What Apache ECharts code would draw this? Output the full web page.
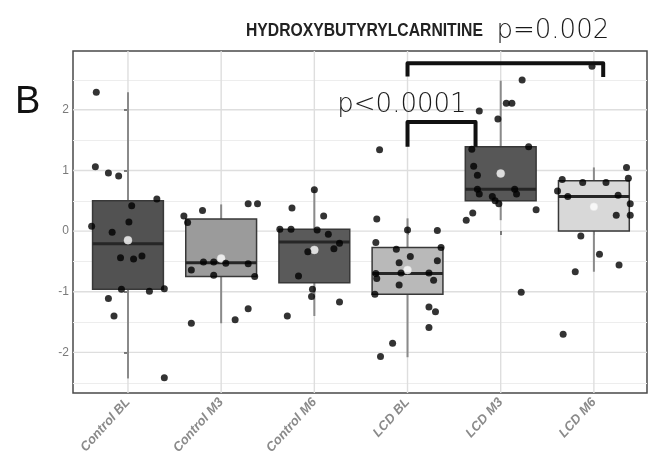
<!DOCTYPE html>
<html>
<head>
<meta charset="utf-8">
<script src="https://cdn.jsdelivr.net/npm/echarts@6/dist/echarts.min.js"></script>
<style>
  html, body { margin: 0; padding: 0; background: #ffffff; }
  #chart { width: 650px; height: 461px; }
</style>
</head>
<body>
<div id="chart"></div>
<script>
// ---- data -------------------------------------------------------------
const categories = ['Control BL', 'Control M3', 'Control M6', 'LCD BL', 'LCD M3', 'LCD M6'];
const yTickValues = [-2, -1, 0, 1, 2];
const yMinorValues = [-2.5, -1.5, -0.5, 0.5, 1.5, 2.5];

// box statistics per group
const lowerWhisker = [-2.43, -1.52, -1.40, -2.08, 0.18, -0.67];
const lowerQuartile = [-0.96, -0.75, -0.85, -1.04, 0.50, 0.00];
const medians      = [-0.21, -0.52, -0.18, -0.70, 0.69, 0.57];
const upperQuartile = [0.50, 0.20, 0.03, -0.27, 1.39, 0.83];
const upperWhisker = [2.29, 0.44, 0.68, 0.21, 2.48, 1.05];
const means        = [-0.15, -0.45, -0.31, -0.64, 0.95, 0.40];

// individual subjects: [horizontal jitter, value]
const controlBL = [[-0.34, 2.29], [-0.35, 1.06], [-0.21, 0.96], [-0.10, 0.91], [0.31, 0.53], [0.04, 0.42],
  [0.01, 0.15], [-0.39, 0.08], [-0.17, -0.02], [-0.08, -0.44], [0.06, -0.46], [0.15, -0.41], [-0.07, -0.96],
  [0.23, -0.99], [0.39, -0.95], [-0.21, -1.11], [-0.15, -1.40], [0.39, -2.42]];
const controlM3 = [[-0.40, 0.25], [-0.36, 0.14], [-0.20, 0.34], [0.29, 0.45], [0.39, 0.45], [-0.32, -0.64],
  [-0.19, -0.51], [-0.08, -0.51], [0.05, -0.53], [0.29, -0.54], [-0.08, -0.73], [0.36, -0.75], [-0.32, -1.52],
  [0.15, -1.46], [0.29, -1.28]];
const controlM6 = [[-0.37, 0.03], [-0.25, 0.03], [-0.24, 0.38], [-0.07, -0.34], [-0.17, -0.74], [-0.29, -1.40],
  [-0.03, -1.08], [-0.02, -0.96], [0.00, 0.68], [0.10, 0.25], [0.03, 0.02], [0.15, -0.05], [0.27, -0.20],
  [0.21, -0.29], [0.27, -1.17]];
const lcdBL = [[-0.30, 1.34], [-0.33, 0.20], [-0.34, -0.19], [0.00, 0.02], [0.32, 0.01], [-0.12, -0.30],
  [0.36, -0.27], [-0.09, -0.52], [0.03, -0.42], [0.32, -0.49], [-0.34, -0.70], [-0.07, -0.69], [0.23, -0.69],
  [-0.33, -0.78], [-0.09, -0.89], [0.28, -0.81], [-0.35, -1.04], [0.23, -1.25], [0.30, -1.33], [0.23, -1.59],
  [-0.16, -1.85], [-0.29, -2.07]];
const lcdM3 = [[0.23, 2.49], [0.06, 2.11], [0.12, 2.11], [-0.03, 1.85], [-0.23, 1.98], [-0.31, 1.35],
  [0.30, 1.39], [-0.29, 1.07], [-0.25, 0.92], [-0.25, 0.69], [-0.23, 0.61], [-0.09, 0.57], [0.15, 0.69],
  [0.17, 0.61], [-0.06, 0.50], [-0.02, 0.45], [0.38, 0.35], [-0.30, 0.30], [-0.37, 0.18], [0.22, -1.01]];
const lcdM6 = [[0.35, 1.05], [-0.34, 0.85], [-0.12, 0.80], [0.13, 0.80], [0.37, 0.87], [-0.39, 0.66],
  [-0.28, 0.57], [0.26, 0.59], [0.39, 0.45], [0.24, 0.26], [0.39, 0.26], [-0.14, -0.08], [0.06, -0.38],
  [0.27, -0.56], [-0.20, -0.67], [-0.33, -1.70], [-0.02, 2.72]];

// significance brackets
const bracketFrom = [3.0, 3.0];
const bracketTo = [5.10, 3.73];
const bracketTop = [2.77, 1.80];
const bracketFootLeft = [2.55, 1.39];
const bracketFootRight = [2.54, 1.39];
const pLabels = ['p=0.002', 'p<0.0001'];
const pLabelX = [4.56, 2.94];
const pLabelY = [3.29, 2.08];

// ---- drawing ----------------------------------------------------------
const groupPoints = [controlBL, controlM3, controlM6, lcdBL, lcdM3, lcdM6];
const boxFills = ['#525252', '#9b9b9b', '#5a5a5a', '#b9b9b9', '#575757', '#d8d8d8'];
const BOX_WIDTH = 0.76;

const boxData = categories.map((c, i) => [i, lowerWhisker[i], lowerQuartile[i], medians[i], upperQuartile[i], upperWhisker[i]]);
const pointData = groupPoints.flatMap((pts, i) => pts.map(p => [i + p[0], p[1]]));
const meanData = means.map((m, i) => [i, m]);
const bracketData = bracketFrom.map((x, i) => [x, bracketTo[i], bracketTop[i], bracketFootLeft[i], bracketFootRight[i]]);
const pLabelData = pLabels.map((t, i) => [pLabelX[i], pLabelY[i], i]);

function renderGrid(params, api) {
  const cs = params.coordSys;
  const lines = [];
  yMinorValues.forEach(v => {
    const y = Math.round(api.coord([0, v])[1]) + 0.5;
    lines.push({ type: 'line', shape: { x1: cs.x, y1: y, x2: cs.x + cs.width, y2: y },
      style: { stroke: '#ededed', lineWidth: 1 } });
  });
  yTickValues.forEach(v => {
    const y = api.coord([0, v])[1];
    lines.push({ type: 'line', shape: { x1: cs.x, y1: y, x2: cs.x + cs.width, y2: y },
      style: { stroke: '#dedede', lineWidth: 1.4 } });
  });
  categories.forEach((c, i) => {
    const x = api.coord([i, 0])[0];
    lines.push({ type: 'line', shape: { x1: x, y1: cs.y, x2: x, y2: cs.y + cs.height },
      style: { stroke: '#dedede', lineWidth: 1.4 } });
  });
  return { type: 'group', children: lines };
}

function renderBox(params, api) {
  const i = api.value(0);
  const lo = api.coord([i, api.value(1)]);
  const b1 = api.coord([i, api.value(2)]);
  const md = api.coord([i, api.value(3)]);
  const b3 = api.coord([i, api.value(4)]);
  const hi = api.coord([i, api.value(5)]);
  const half = api.size([BOX_WIDTH, 0])[0] / 2;
  const x = lo[0];
  const whisker = { stroke: '#8a8a8a', lineWidth: 2 };
  return {
    type: 'group',
    children: [
      { type: 'line', shape: { x1: x, y1: hi[1], x2: x, y2: b3[1] }, style: whisker },
      { type: 'line', shape: { x1: x, y1: b1[1], x2: x, y2: lo[1] }, style: whisker },
      { type: 'rect', shape: { x: x - half, y: b3[1], width: 2 * half, height: b1[1] - b3[1] },
        style: { fill: boxFills[i], stroke: '#383838', lineWidth: 1.5 } },
      { type: 'line', shape: { x1: x - half, y1: md[1], x2: x + half, y2: md[1] },
        style: { stroke: '#262626', lineWidth: 3 } }
    ]
  };
}

function renderBracket(params, api) {
  const x1 = api.value(0), x2 = api.value(1), top = api.value(2);
  const pts = [
    api.coord([x1, api.value(3)]),
    api.coord([x1, top]),
    api.coord([x2, top]),
    api.coord([x2, api.value(4)])
  ];
  return { type: 'polyline', shape: { points: pts },
    style: { stroke: '#111111', lineWidth: 4, fill: null, lineJoin: 'round' } };
}

function renderPLabel(params, api) {
  const p = api.coord([api.value(0), api.value(1)]);
  return { type: 'text', x: p[0], y: p[1],
    style: { text: pLabels[api.value(2)], fill: '#1a1a1a', font: '200 26px "DejaVu Sans", sans-serif',
      align: 'center', verticalAlign: 'middle' } };
}

const chart = echarts.init(document.getElementById('chart'), null, { renderer: 'canvas' });
chart.setOption({
  animation: false,
  backgroundColor: '#ffffff',
  grid: { left: 73, right: 3, top: 51, bottom: 68, show: true, borderColor: '#4a4a4a', borderWidth: 1.5,
    backgroundColor: 'transparent' },
  xAxis: {
    type: 'value', min: -0.59, max: 5.57,
    axisLine: { show: false },
    splitLine: { show: false },
    axisTick: { show: true, customValues: categories.map((c, i) => i), length: 4,
      lineStyle: { color: '#555', width: 1.5 } },
    axisLabel: { customValues: categories.map((c, i) => i), formatter: v => categories[Math.round(v)],
      rotate: 48, margin: 7, fontSize: 13, fontStyle: 'italic', fontWeight: 'bold', color: '#8a8a8a',
      fontFamily: 'Liberation Sans, Arial, sans-serif' }
  },
  yAxis: {
    type: 'value', min: -2.67, max: 2.97,
    axisLine: { show: false },
    splitLine: { show: false },
    axisTick: { show: true, customValues: yTickValues, length: 4, lineStyle: { color: '#555', width: 1.5 } },
    axisLabel: { customValues: yTickValues, formatter: v => String(v), margin: 4, fontSize: 12,
      color: '#7a7a7a', fontFamily: 'Liberation Sans, Arial, sans-serif' }
  },
  graphic: [
    { type: 'text', left: 15, top: 84, style: { text: 'B', font: '38px "Liberation Sans", Arial, sans-serif', fill: '#111' } },
    { type: 'text', x: 246, y: 22, scaleX: 0.873,
      style: { text: 'HYDROXYBUTYRYLCARNITINE',
        font: 'bold 18px "Liberation Sans", Arial, sans-serif', fill: '#222' } }
  ],
  series: [
    { type: 'custom', z: 0, silent: true, data: [[0, 0]], renderItem: renderGrid },
    { type: 'custom', z: 2, data: boxData, encode: { x: 0, y: [1, 2, 3, 4, 5] }, renderItem: renderBox },
    { type: 'scatter', z: 3, data: meanData, symbol: 'circle', symbolSize: 8,
      itemStyle: { color: '#ffffff', borderColor: '#dddddd', borderWidth: 0.5 } },
    { type: 'scatter', z: 4, data: pointData, symbol: 'circle', symbolSize: 7, itemStyle: { color: '#000000' } },
    { type: 'custom', z: 5, clip: false, data: bracketData, renderItem: renderBracket },
    { type: 'custom', z: 5, clip: false, data: pLabelData, renderItem: renderPLabel }
  ]
});
</script>
</body>
</html>
